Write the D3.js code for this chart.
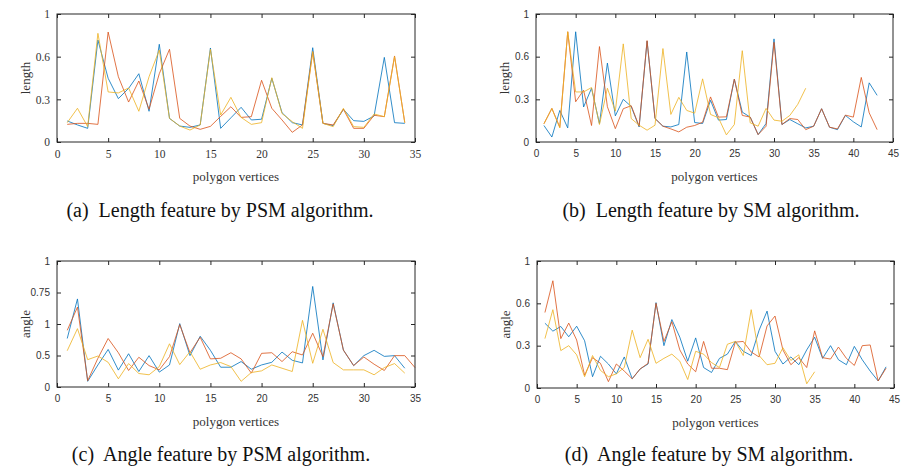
<!DOCTYPE html>
<html>
<head>
<meta charset="utf-8">
<script src="https://cdn.jsdelivr.net/npm/d3@7"></script>
<style>
  body { margin: 0; background: #fff; }
  svg { display: block; }
</style>
</head>
<body>
<div id="chart"></div>
<script>
// series colours (MATLAB default order)
const colors = ["#0072BD", "#D95319", "#EDB120"];

// (a) length feature, PSM
const aBlue = [0.148,0.12,0.096,0.717,0.448,0.305,0.377,0.48,0.216,0.687,0.166,0.112,0.103,0.12,0.661,0.096,0.17,0.244,0.155,0.16,0.448,0.206,0.136,0.12,0.663,0.131,0.115,0.23,0.15,0.145,0.183,0.595,0.136,0.131];
const aRed = [0.124,0.131,0.131,0.124,0.773,0.459,0.281,0.429,0.23,0.48,0.652,0.166,0.112,0.089,0.11,0.18,0.248,0.173,0.178,0.434,0.237,0.155,0.068,0.12,0.635,0.131,0.12,0.23,0.096,0.096,0.188,0.178,0.605,0.136];
const aYellow = [0.136,0.237,0.108,0.764,0.352,0.345,0.38,0.216,0.459,0.647,0.166,0.112,0.084,0.12,0.652,0.19,0.314,0.173,0.124,0.136,0.452,0.2,0.143,0.096,0.635,0.131,0.108,0.237,0.108,0.103,0.197,0.178,0.6,0.136];

// (b) length feature, SM
const bBlue = [0.116,0.035,0.222,0.099,0.775,0.246,0.378,0.128,0.555,0.184,0.3,0.25,0.106,0.709,0.165,0.111,0.106,0.123,0.633,0.137,0.13,0.293,0.154,0.158,0.442,0.21,0.175,0.052,0.13,0.725,0.123,0.158,0.128,0.099,0.111,0.234,0.104,0.087,0.187,0.142,0.106,0.416,0.328];
const bRed = [0.128,0.236,0.104,0.775,0.283,0.364,0.116,0.671,0.248,0.094,0.234,0.255,0.111,0.713,0.165,0.111,0.092,0.071,0.104,0.116,0.139,0.317,0.175,0.177,0.442,0.187,0.175,0.052,0.111,0.701,0.123,0.165,0.158,0.087,0.111,0.234,0.104,0.092,0.189,0.175,0.454,0.205,0.087];
const bYellow = [0.128,0.236,0.099,0.775,0.352,0.352,0.383,0.123,0.378,0.217,0.69,0.165,0.118,0.083,0.118,0.657,0.194,0.314,0.222,0.203,0.444,0.194,0.17,0.05,0.123,0.642,0.135,0.111,0.236,0.154,0.146,0.187,0.265,0.378];

// (c) angle feature, PSM (values in axis units, ticks 0..1 in quarters)
const cBlue = [0.385,0.699,0.045,0.175,0.298,0.134,0.264,0.123,0.249,0.118,0.175,0.503,0.249,0.403,0.291,0.157,0.157,0.202,0.141,0.175,0.196,0.277,0.212,0.191,0.798,0.215,0.668,0.293,0.17,0.249,0.291,0.243,0.249,0.149];
const cRed = [0.45,0.634,0.05,0.228,0.385,0.272,0.131,0.236,0.17,0.136,0.241,0.495,0.272,0.395,0.223,0.228,0.272,0.223,0.11,0.267,0.272,0.202,0.28,0.254,0.427,0.241,0.66,0.293,0.17,0.238,0.181,0.131,0.249,0.249,0.154];
const cYellow = [0.288,0.463,0.217,0.246,0.196,0.065,0.186,0.107,0.097,0.162,0.343,0.178,0.28,0.141,0.175,0.194,0.162,0.045,0.115,0.128,0.175,0.149,0.123,0.529,0.188,0.458,0.194,0.136,0.136,0.136,0.097,0.154,0.186,0.11];

// (d) angle feature, SM
const dBlue = [0.459,0.403,0.436,0.363,0.438,0.335,0.08,0.225,0.17,0.1,0.22,0.066,0.135,0.17,0.605,0.3,0.485,0.36,0.19,0.355,0.145,0.11,0.21,0.24,0.33,0.26,0.23,0.41,0.545,0.26,0.17,0.22,0.165,0.27,0.36,0.21,0.3,0.2,0.165,0.295,0.2,0.12,0.05,0.15];
const dRed = [0.535,0.76,0.35,0.46,0.34,0.09,0.215,0.175,0.045,0.17,0.12,0.065,0.135,0.175,0.6,0.33,0.47,0.27,0.17,0.115,0.33,0.14,0.14,0.13,0.325,0.33,0.255,0.22,0.44,0.51,0.27,0.165,0.215,0.145,0.405,0.215,0.205,0.29,0.21,0.16,0.3,0.305,0.05,0.14];
const dYellow = [0.35,0.555,0.265,0.3,0.235,0.08,0.23,0.125,0.08,0.1,0.145,0.41,0.215,0.345,0.175,0.21,0.24,0.19,0.06,0.26,0.24,0.18,0.145,0.31,0.33,0.23,0.555,0.23,0.165,0.175,0.285,0.195,0.235,0.03,0.115];

// tick values and labels as printed in the figure
const xTicks35 = [0,5,10,15,20,25,30,35];
const xTicks45 = [0,5,10,15,20,25,30,35,40,45];
const lenTicks = [0, 0.3, 0.6, 0.9];
const lenTickLabels = ["0", "0.3", "0.6", "1"];
const angTicks = [0, 0.25, 0.5, 0.75, 1];
const angTickLabels = ["0", "0.5", "1", "0.75", "1"];

const captions = [
  "(a)  Length feature by PSM algorithm.",
  "(b)  Length feature by SM algorithm.",
  "(c)  Angle feature by PSM algorithm.",
  "(d)  Angle feature by SM algorithm."
];

const panels = [
  { left: 57, top: 14, w: 358, h: 128, xmax: 35, xTicks: xTicks35, yTop: 0.9, yTicks: lenTicks, yLabels: lenTickLabels,
    ylabel: "length", series: [aBlue, aRed, aYellow], tickFont: "'Liberation Serif', serif", tickSize: 11.5,
    caption: captions[0], capX: 220, capY: 217 },
  { left: 536, top: 14, w: 357, h: 128, xmax: 45, xTicks: xTicks45, yTop: 0.9, yTicks: lenTicks, yLabels: lenTickLabels,
    ylabel: "length", series: [bBlue, bRed, bYellow], tickFont: "'Liberation Sans', Arial, sans-serif", tickSize: 10,
    caption: captions[1], capX: 711, capY: 217 },
  { left: 57, top: 261, w: 358, h: 126, xmax: 35, xTicks: xTicks35, yTop: 1, yTicks: angTicks, yLabels: angTickLabels,
    ylabel: "angle", series: [cBlue, cRed, cYellow], tickFont: "'Liberation Sans', Arial, sans-serif", tickSize: 10,
    caption: captions[2], capX: 221, capY: 461 },
  { left: 537, top: 261, w: 357, h: 127, xmax: 45, xTicks: xTicks45, yTop: 0.9, yTicks: lenTicks, yLabels: lenTickLabels,
    ylabel: "angle", series: [dBlue, dRed, dYellow], tickFont: "'Liberation Sans', Arial, sans-serif", tickSize: 10,
    caption: captions[3], capX: 709, capY: 461 }
];

const svg = d3.select("#chart").append("svg")
  .attr("width", 902)
  .attr("height", 469);

const axisColor = "#262626";

panels.forEach(p => {
  const g = svg.append("g").attr("transform", `translate(${p.left},${p.top})`);

  const x = d3.scaleLinear().domain([0, p.xmax]).range([0, p.w]);
  const y = d3.scaleLinear().domain([0, p.yTop]).range([p.h, 0]);

  // lines
  const line = d3.line()
    .x((d, i) => x(i + 1))
    .y(d => y(d));

  p.series.forEach((s, i) => {
    g.append("path")
      .datum(s)
      .attr("d", line)
      .attr("fill", "none")
      .attr("stroke", colors[i])
      .attr("stroke-width", 1)
      .attr("stroke-opacity", 0.8);
  });

  // axes, MATLAB style: ticks inward on all sides
  const styleAxis = sel => {
    sel.select(".domain").remove();
    sel.selectAll(".tick line").attr("stroke", axisColor);
    sel.selectAll(".tick text")
      .attr("fill", "#333")
      .style("font-family", p.tickFont)
      .style("font-size", p.tickSize + "px");
  };

  g.append("g")
    .attr("transform", `translate(0,${p.h})`)
    .call(d3.axisBottom(x).tickValues(p.xTicks).tickFormat(d3.format("d")).tickSizeInner(-4).tickSizeOuter(0).tickPadding(8))
    .call(styleAxis);

  g.append("g")
    .call(d3.axisTop(x).tickValues(p.xTicks).tickFormat("").tickSizeInner(-4).tickSizeOuter(0))
    .call(styleAxis);

  g.append("g")
    .call(d3.axisLeft(y).tickValues(p.yTicks).tickFormat((d, i) => p.yLabels[i]).tickSizeInner(-4).tickSizeOuter(0).tickPadding(7))
    .call(styleAxis);

  g.append("g")
    .attr("transform", `translate(${p.w},0)`)
    .call(d3.axisRight(y).tickValues(p.yTicks).tickFormat("").tickSizeInner(-4).tickSizeOuter(0))
    .call(styleAxis);

  // box
  g.append("rect")
    .attr("width", p.w)
    .attr("height", p.h)
    .attr("fill", "none")
    .attr("stroke", axisColor)
    .attr("stroke-width", 1);

  // axis labels
  g.append("text")
    .attr("x", p.w / 2)
    .attr("y", p.h + 39)
    .attr("text-anchor", "middle")
    .attr("fill", "#333")
    .style("font-family", "'Liberation Serif', serif")
    .style("font-size", "13px")
    .text("polygon vertices");

  g.append("text")
    .attr("transform", `translate(${-27},${p.h / 2}) rotate(-90)`)
    .attr("text-anchor", "middle")
    .attr("fill", "#333")
    .style("font-family", "'Liberation Serif', serif")
    .style("font-size", "13px")
    .text(p.ylabel);

  // caption
  svg.append("text")
    .attr("x", p.capX)
    .attr("y", p.capY)
    .attr("text-anchor", "middle")
    .attr("fill", "#111")
    .style("font-family", "'Liberation Serif', serif")
    .style("font-size", "20px")
    .style("white-space", "pre")
    .text(p.caption);
});
</script>
</body>
</html>
